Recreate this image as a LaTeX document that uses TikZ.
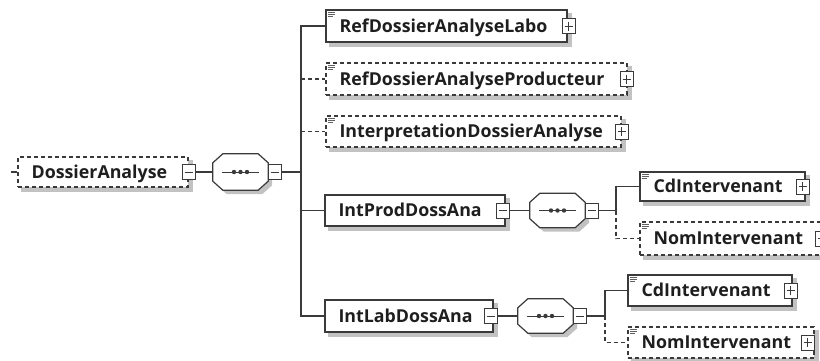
\documentclass[tikz,border=0pt]{standalone}
\usepackage{fontspec}
\setmainfont{Open Sans}
\usetikzlibrary{backgrounds}
\definecolor{ln}{HTML}{3A3A3A}
\definecolor{tx}{HTML}{1E1E1E}
\definecolor{sh}{HTML}{C2C2C2}
\tikzset{
  box/.style={rectangle,draw=ln,line width=1.2pt,fill=white,inner sep=0pt},
  opt/.style={dash pattern=on 4pt off 3pt},
  lbl/.style={inner sep=0pt,font=\bfseries\fontsize{17.8}{20}\selectfont,text=tx,text height=12.7pt,text depth=0pt},
  ico/.style={rectangle,draw=ln,line width=1pt,fill=white,minimum width=13pt,minimum height=15pt,inner sep=0pt},
  plus/.style={ico,path picture={\draw[ln,line width=1pt]
      ([xshift=2.5pt]path picture bounding box.west)--([xshift=-2.5pt]path picture bounding box.east)
      ([yshift=-3pt]path picture bounding box.north)--([yshift=3pt]path picture bounding box.south);}},
  minus/.style={ico,path picture={\draw[ln,line width=1pt]
      ([xshift=2.5pt]path picture bounding box.west)--([xshift=-2.5pt]path picture bounding box.east);}},
  seq/.style={rectangle,inner sep=0pt,minimum width=55pt},
  conn/.style={draw=ln,line width=1.2pt},
  shd/.style={fill=sh,transform canvas={shift={(4pt,-4pt)}}},
}
\newcommand\elbox[7]{%
  \node[box,#7,minimum width={#3-#2},minimum height={#5-#4}] (#1) at ({(#2+#3)/2},{(#4+#5)/2}) {};
  \node[lbl,anchor=west] (#1-t) at ([xshift=14pt]#1.west) {#6};
  \begin{pgfonlayer}{background}
    \path[shd] (#1.south west) rectangle (#1.north east);
  \end{pgfonlayer}}
\newcommand\eqicon[1]{%
  \draw[ln!80,line width=0.8pt] ([shift={(2.5pt,-2.5pt)}]#1.north west)--++(7pt,0)
    ([shift={(2.5pt,-4.8pt)}]#1.north west)--++(7pt,0)
    ([shift={(2.5pt,-7.1pt)}]#1.north west)--++(5pt,0);}
\newcommand\octpath[1]{([xshift=10pt]#1.north west) -- ([xshift=-10pt]#1.north east) -- ([yshift=-9pt]#1.north east) -- ([yshift=9pt]#1.south east) -- ([xshift=-10pt]#1.south east) -- ([xshift=10pt]#1.south west) -- ([yshift=9pt]#1.south west) -- ([yshift=-9pt]#1.north west) -- cycle}
\newcommand\seqnode[4]{% name, x, y, height
  \node[seq,minimum height=#4] (#1) at (#2,#3) {};
  \begin{pgfonlayer}{background}
    \path[shd] \octpath{#1};
  \end{pgfonlayer}
  \draw[ln,line width=1.2pt,fill=white] \octpath{#1};
  \draw[ln,line width=1pt] ([xshift=9pt]#1.west) -- ([xshift=-9pt]#1.east);
  \fill[ln] (#1.center) circle (2.2pt) ([xshift=-6.5pt]#1.center) circle (2.2pt) ([xshift=6.5pt]#1.center) circle (2.2pt);
  \node[minus] (#1-i) at ([xshift=6.5pt]#1.east) {};}
\begin{document}
\begin{tikzpicture}[x=1pt,y=-1pt]
\useasboundingbox (0,0) rectangle (820,360);
\begin{pgfonlayer}{background}
\fill[white] (0,0) rectangle (820,360);
\end{pgfonlayer}
% root
\elbox{DA}{18}{188}{157}{187}{DossierAnalyse}{opt}
\node[minus] (DA-i) at (DA.east) {};
\coordinate (DA-stub) at ([xshift=-6pt]DA.west);
\draw[conn] (DA-stub) -- (DA.west);
% sequence 1
\seqnode{S1}{240.5}{172}{36pt}
\draw[conn] (DA-i.east) -- (S1.west);
\coordinate (J1) at (301,172);
\draw[conn] (S1-i.east) -- (J1);
% children of sequence 1
\elbox{RL}{326}{567}{10}{42}{RefDossierAnalyseLabo}{}
\eqicon{RL}
\node[plus] (RL-i) at ([xshift=1pt]RL.east) {};
\elbox{RP}{326}{627}{63}{95}{RefDossierAnalyseProducteur}{opt}
\eqicon{RP}
\node[plus] (RP-i) at ([xshift=-1pt]RP.east) {};
\elbox{ID}{326}{621}{116}{147}{InterpretationDossierAnalyse}{opt}
\eqicon{ID}
\node[plus] (ID-i) at (ID.east) {};
\elbox{IP}{325}{505}{195}{226}{IntProdDossAna}{}
\node[minus] (IP-i) at ([xshift=-3pt]IP.east) {};
\elbox{IL}{325}{493}{300}{332}{IntLabDossAna}{}
\node[minus] (IL-i) at ([xshift=-3pt]IL.east) {};
\draw[conn] (J1) |- (RL.west);
\draw[conn] (J1) |- (IP.west);
\draw[conn] (J1) |- (IL.west);
\draw[conn,opt] (RP.west -| J1) -- (RP.west);
\draw[conn,opt] (ID.west -| J1) -- (ID.west);
% sequence 2
\seqnode{S2}{557.5}{210.5}{34pt}
\draw[conn] (IP-i.east) -- (S2.west);
\coordinate (J2) at (616,210.5);
\draw[conn] (S2-i.east) -- (J2);
\elbox{C1}{640}{805}{172}{201}{CdIntervenant}{}
\eqicon{C1}
\node[plus] (C1-i) at ([xshift=-3pt]C1.east) {};
\elbox{N1}{640}{826}{222}{255}{NomIntervenant}{opt}
\eqicon{N1}
\node[plus] (N1-i) at ([xshift=-5pt]N1.east) {};
\draw[conn] (J2) |- (C1.west);
\draw[conn,opt] (J2) |- (N1.west);
% sequence 3
\seqnode{S3}{545.5}{316}{34pt}
\draw[conn] (IL-i.east) -- (S3.west);
\coordinate (J3) at (605,316);
\draw[conn] (S3-i.east) -- (J3);
\elbox{C2}{628}{792}{275}{306}{CdIntervenant}{}
\eqicon{C2}
\node[plus] (C2-i) at ([xshift=-2pt]C2.east) {};
\elbox{N2}{628}{814}{327}{358}{NomIntervenant}{opt}
\eqicon{N2}
\node[plus] (N2-i) at ([xshift=-7pt]N2.east) {};
\draw[conn] (J3) |- (C2.west);
\draw[conn,opt] (J3) |- (N2.west);
\end{tikzpicture}
\end{document}
